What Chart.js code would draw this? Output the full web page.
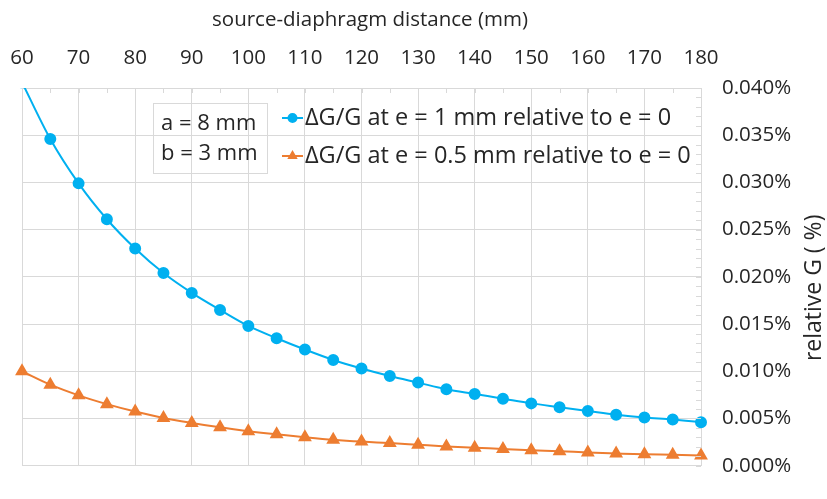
<!DOCTYPE html>
<html><head><meta charset="utf-8">
<script src="https://cdn.jsdelivr.net/npm/chart.js@4/dist/chart.umd.min.js"></script>
<style>html,body{margin:0;padding:0;background:#fff;}#wrap{position:relative;width:827px;height:499px;}</style>
</head><body><div id="wrap"><canvas id="c" width="827" height="499"></canvas></div>
<script>
// ---- data (values in %) ----
const distances = [60,65,70,75,80,85,90,95,100,105,110,115,120,125,130,135,140,145,150,155,160,165,170,175,180];
const dG_e1   = [0.0406,0.0346,0.0299,0.0261,0.0230,0.0204,0.0183,0.0165,0.0148,0.0135,0.0123,0.0112,0.0103,0.0095,0.0088,0.0081,0.0076,0.0071,0.0066,0.0062,0.0058,0.0054,0.0051,0.0049,0.0046];
const dG_e05  = [0.0100,0.00858,0.00745,0.00652,0.00573,0.00506,0.00453,0.00406,0.00366,0.00332,0.00302,0.00275,0.00255,0.00240,0.00222,0.00204,0.00191,0.00177,0.00164,0.00154,0.00140,0.00130,0.00121,0.00116,0.00109];
const seriesLabels = ['ΔG/G at e = 1 mm relative to e = 0','ΔG/G at e = 0.5 mm relative to e = 0'];
const xTitle = 'source-diaphragm distance (mm)';
const yTitle = 'relative G ( %)';
const noteLines = ['a = 8 mm','b = 3 mm'];

const FONT = "'Open Sans', sans-serif";
const FS = 20.5;
const TEXT = '#262626';
const GRID = '#d9d9d9';
const BLUE = '#00b0f0';
const ORANGE = '#ed7d31';

const minorTicks = {
  id:'minorTicks',
  afterDatasetsDraw(chart){
    const {ctx, chartArea:a, scales:{x,y}} = chart;
    ctx.save(); ctx.strokeStyle = GRID; ctx.lineWidth = 1;
    ctx.beginPath();
    for(let v=60; v<=180; v+=5){ const px=Math.round(x.getPixelForValue(v))+0.5; ctx.moveTo(px,a.top); ctx.lineTo(px,a.top+5); }
    for(let k=0;k<=40;k++){ const py=Math.round(y.getPixelForValue(k*0.001))+0.5; ctx.moveTo(a.right-5,py); ctx.lineTo(a.right,py); }
    ctx.stroke(); ctx.restore();
  }
};

const overlay = {
  id:'overlay',
  afterDraw(chart){
    const {ctx, chartArea:a} = chart;
    ctx.save();
    ctx.fillStyle = TEXT; ctx.textBaseline='middle';
    // x axis title
    ctx.font = FS+'px '+FONT; ctx.textAlign='center';
    ctx.fillText(xTitle,370,20);
    // note box
    ctx.strokeStyle = GRID; ctx.lineWidth=1;
    ctx.strokeRect(153.5,103.5,114,70);
    ctx.textAlign='left';
    ctx.font = '22px '+FONT;
    ctx.fillText(noteLines[0],161,124);
    ctx.fillText(noteLines[1],161,154);
    // legend
    ctx.font = '23.5px '+FONT;
    const ys=[118,156];
    chart.data.datasets.forEach((ds,i)=>{
      const yy=ys[i];
      ctx.strokeStyle=ds.borderColor; ctx.lineWidth=2;
      ctx.beginPath(); ctx.moveTo(282,yy); ctx.lineTo(303,yy); ctx.stroke();
      ctx.fillStyle=ds.backgroundColor;
      Chart.helpers.drawPoint(ctx,{pointStyle:ds.pointStyle,radius:4,rotation:0,borderWidth:1},292.5,yy);
      ctx.fillStyle=TEXT;
      ctx.fillText(ds.label,305,yy);
    });
    // right axis title (reads bottom-to-top)
    ctx.font = '23px '+FONT;
    ctx.translate(814,(a.top+a.bottom)/2+11);
    ctx.rotate(-Math.PI/2);
    ctx.textAlign='center';
    ctx.fillText(yTitle,0,0);
    ctx.restore();
  }
};

new Chart(document.getElementById('c'),{
  type:'line',
  data:{datasets:[
    {label:seriesLabels[0], data:distances.map((d,i)=>({x:d,y:dG_e1[i]})), borderColor:BLUE, backgroundColor:BLUE, pointBorderColor:BLUE, pointStyle:'circle', pointRadius:5, borderWidth:2, cubicInterpolationMode:'monotone', clip:{top:0,left:false,right:false,bottom:false}},
    {label:seriesLabels[1], data:distances.map((d,i)=>({x:d,y:dG_e05[i]})), borderColor:ORANGE, backgroundColor:ORANGE, pointBorderColor:ORANGE, pointStyle:'triangle', pointRadius:6, borderWidth:2, cubicInterpolationMode:'monotone', clip:false}
  ]},
  options:{
    responsive:false, animation:false, events:[],
    layout:{padding:{left:22,right:0,top:0,bottom:9}},
    plugins:{legend:{display:false},tooltip:{enabled:false}},
    scales:{
      x:{type:'linear',position:'top',min:60,max:180,
        ticks:{stepSize:10,padding:18,color:TEXT,font:{family:FONT,size:FS},maxRotation:0},
        grid:{color:GRID,drawTicks:false},border:{color:GRID},
        title:{display:false,text:xTitle},
        afterFit(s){s.height=88; s.paddingLeft=0; s.paddingRight=0;}},
      y:{position:'right',min:0,max:0.04,
        ticks:{stepSize:0.005,padding:21,color:TEXT,font:{family:FONT,size:FS},callback:v=>v.toFixed(3)+'%'},
        grid:{color:GRID,drawTicks:false},border:{color:GRID},
        afterFit(s){s.width=126;}}
    }
  },
  plugins:[minorTicks,overlay]
});
</script></body></html>
